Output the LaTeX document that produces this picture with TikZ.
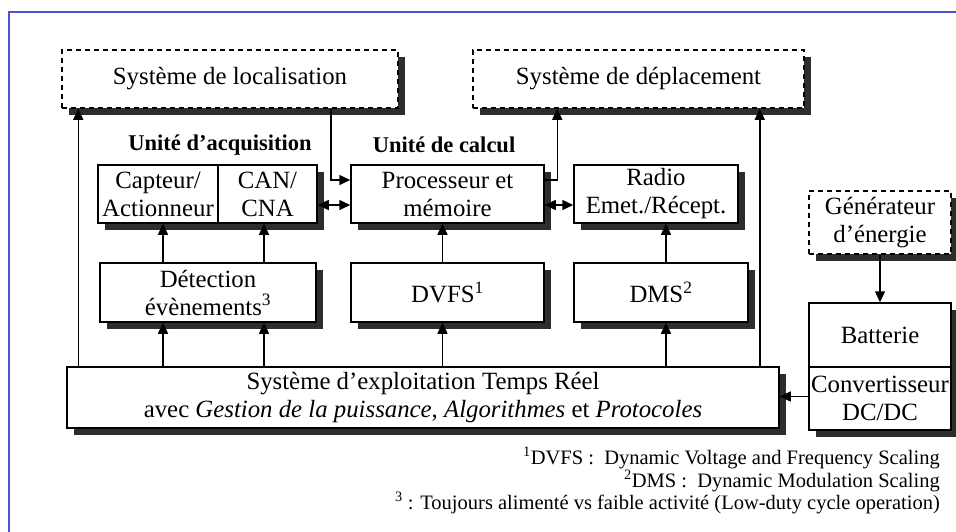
\documentclass[tikz,border=0pt]{standalone}
\usepackage{fontspec}
\setmainfont{Liberation Serif}
\usetikzlibrary{arrows.meta,shadows,calc}
\definecolor{frameblue}{RGB}{80,80,215}
\definecolor{shade}{RGB}{45,45,45}
\begin{document}
\begin{tikzpicture}[x=1pt,y=-1pt,
  box/.style={draw,line width=1.5pt,fill=white,inner sep=0pt,align=center,
     font=\fontsize{24.8}{28}\selectfont,
     drop shadow={shadow xshift=7pt,shadow yshift=-7pt,fill=shade,opacity=1}},
  dbox/.style={box,dash pattern=on 5pt off 4pt},
  lbl/.style={font=\fontsize{22.5}{26}\selectfont\bfseries,inner sep=0pt},
  fn/.style={font=\fontsize{20.5}{22}\selectfont,inner sep=0pt,anchor=east},
  arr/.style={line width=1.5pt,-{Triangle[length=11pt,width=10pt]}},
  darr/.style={line width=1.5pt,{Triangle[length=11pt,width=10pt]}-{Triangle[length=11pt,width=10pt]}}
]
\useasboundingbox (0,0) rectangle (956,531);
\draw[frameblue,line width=2pt] (9,545) -- (9,12) -- (970,12);

% boxes
\node[dbox,minimum width=336pt,minimum height=58pt] (loc) at (230,79) {Système de localisation};
\node[dbox,minimum width=331pt,minimum height=58pt] (dep) at (638.5,79) {Système de déplacement};
\node[lbl] (lacq) at (220,145) {Unité d’acquisition};
\node[lbl] (lcal) at (444,145) {Unité de calcul};
\node[box,minimum width=120pt,minimum height=58pt] (capt) at (158,194) {Capteur/\\Actionneur};
\node[box,minimum width=99pt,minimum height=58pt] (can) at (267.5,194) {CAN/\\CNA};
\node[box,minimum width=193pt,minimum height=58pt] (proc) at (447.5,194) {Processeur et\\mémoire};
\node[box,minimum width=164pt,minimum height=58pt] (radio) at (656,194) {Radio\\Emet./Récept.};
\node[box,minimum width=216pt,minimum height=59pt] (det) at (208,292.5) {Détection\\évènements\textsuperscript{3}};
\node[box,minimum width=193pt,minimum height=59pt] (dvfs) at (447.5,292.5) {DVFS\textsuperscript{1}};
\node[box,minimum width=174pt,minimum height=59pt] (dms) at (661,292.5) {DMS\textsuperscript{2}};
\node[box,minimum width=712pt,minimum height=61pt] (os) at (423,397.5) {Système d’exploitation Temps Réel\\avec \textit{Gestion de la puissance}, \textit{Algorithmes} et \textit{Protocoles}};
\node[dbox,minimum width=142pt,minimum height=63pt] (gen) at (880,222.5) {Générateur\\d’énergie};
\node[box,minimum width=142pt,minimum height=64pt] (bat) at (880,335) {Batterie};
\node[box,minimum width=142pt,minimum height=63pt] (conv) at (880,398.5) {Convertisseur\\DC/DC};

% connectors
\draw[arr] ([xshift=12pt]os.north west) -- ([xshift=12pt]os.north west |- loc.south);
\draw[arr] ([xshift=-68pt]loc.south east) |- ([yshift=14pt]proc.west);
\draw[arr] ([yshift=14pt]proc.east) -| ([xshift=85pt]dep.south west);
\draw[arr] ([xshift=-20pt]os.north east) -- ([xshift=-20pt]os.north east |- dep.south);
\draw[darr] ([yshift=-11pt]can.east) -- ([yshift=-11pt]proc.west);
\draw[darr] ([yshift=-11pt]proc.east) -- ([yshift=-11pt]radio.west);
\draw[arr] ([xshift=-45pt]det.north) -- ([xshift=-45pt]det.north |- capt.south);
\draw[arr] ([xshift=56pt]det.north) -- ([xshift=56pt]det.north |- can.south);
\draw[arr] ([xshift=-5pt]dvfs.north) -- ([xshift=-5pt]dvfs.north |- proc.south);
\draw[arr] ([xshift=5pt]dms.north) -- ([xshift=5pt]dms.north |- radio.south);
\draw[arr] ([xshift=-45pt]det.south |- os.north) -- ([xshift=-45pt]det.south);
\draw[arr] ([xshift=56pt]det.south |- os.north) -- ([xshift=56pt]det.south);
\draw[arr] ([xshift=-5pt]dvfs.south |- os.north) -- ([xshift=-5pt]dvfs.south);
\draw[arr] ([xshift=5pt]dms.south |- os.north) -- ([xshift=5pt]dms.south);
\draw[arr] (gen.south) -- (bat.north);
\draw[arr] ([yshift=2pt]conv.west) -- ([yshift=2pt]conv.west -| os.east);

% footnotes
\node[fn] (f1) at (940,458) {\textsuperscript{1}DVFS :\ \ Dynamic Voltage and Frequency Scaling};
\node[fn] (f2) at (940,481) {\textsuperscript{2}DMS :\ \ Dynamic Modulation Scaling};
\node[fn] (f3) at (940,503) {\textsuperscript{3} : Toujours alimenté vs faible activité (Low-duty cycle operation)};
\end{tikzpicture}
\end{document}
